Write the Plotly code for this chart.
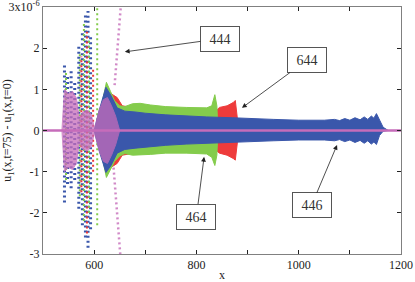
import plotly.graph_objects as go

# ---------------- data (units of 1e-6) ----------------
# run 446 (blue) envelope
blue_x = [600, 610, 623, 633, 645, 660, 680, 700, 740, 780, 820, 870, 900, 950, 1000, 1050, 1070, 1080, 1090, 1100, 1110, 1120, 1128, 1135, 1142, 1147, 1152, 1158, 1165, 1175]
blue_hi = [0.0, 0.5, 1.05, 0.85, 0.55, 0.47, 0.45, 0.42, 0.38, 0.35, 0.33, 0.31, 0.29, 0.27, 0.25, 0.25, 0.27, 0.24, 0.29, 0.25, 0.31, 0.26, 0.33, 0.27, 0.35, 0.3, 0.41, 0.25, 0.08, 0.0]
blue_lo = [0.0, -0.5, -1.02, -0.85, -0.55, -0.46, -0.43, -0.4, -0.36, -0.33, -0.31, -0.29, -0.27, -0.25, -0.23, -0.23, -0.25, -0.22, -0.27, -0.23, -0.29, -0.24, -0.31, -0.25, -0.33, -0.28, -0.34, -0.12, -0.02, 0.0]

# run 464 (green) envelope
green_x = [604, 615, 624, 632, 640, 650, 660, 675, 690, 710, 740, 780, 820, 830, 836, 840, 842]
green_hi = [0.0, 0.6, 1.17, 0.95, 0.72, 0.6, 0.58, 0.65, 0.66, 0.62, 0.58, 0.56, 0.55, 0.6, 0.87, 0.6, 0.0]
green_lo = [0.0, -0.6, -1.14, -0.95, -0.75, -0.62, -0.56, -0.6, -0.6, -0.58, -0.55, -0.55, -0.57, -0.65, -0.85, -0.6, 0.0]

# run 644 (red) envelope
red_x = [608, 625, 635, 645, 655, 700, 800, 840, 845, 860, 872, 876, 880, 882]
red_hi = [0.0, 1.0, 0.88, 0.8, 0.6, 0.5, 0.5, 0.5, 0.56, 0.6, 0.68, 0.73, 0.3, 0.0]
red_lo = [0.0, -0.98, -0.88, -0.8, -0.6, -0.5, -0.5, -0.5, -0.55, -0.6, -0.68, -0.72, -0.3, 0.0]

# run 444 (pink) envelope in the unstable region
pink_x = [537, 542, 550, 558, 565, 571, 578, 586, 594, 601, 610, 618, 626, 634, 642, 650]
pink_hi = [0.0, 1.0, 0.9, 0.95, 0.8, 0.3, 0.45, 0.5, 0.4, 0.05, 0.5, 0.75, 0.8, 0.6, 0.35, 0.0]
pink_lo = [0.0, -1.0, -0.9, -0.95, -0.8, -0.3, -0.45, -0.5, -0.4, -0.05, -0.5, -0.75, -0.8, -0.6, -0.35, 0.0]

# scattered columns of points (x, low end, high end)
blue_sp_x = [542, 548, 555, 562, 570, 577, 583, 588, 593]
blue_sp_hi = [1.65, 1.3, 1.5, 1.2, 2.1, 2.4, 2.8, 2.9, 2.3]
blue_sp_lo = [-1.75, -1.3, -1.4, -1.2, -1.9, -2.3, -2.6, -2.85, -2.4]
green_sp_x = [545, 572, 580, 590, 606]
green_sp_hi = [1.4, 1.9, 2.6, 2.2, 3.0]
green_sp_lo = [-1.2, -1.6, -2.2, -2.0, -2.3]
red_sp_x = [575, 586, 598]
red_sp_hi = [1.8, 2.4, 1.5]
red_sp_lo = [-1.5, -2.5, -1.0]
# pink slanted columns near x=645 (start x, start y, end x, end y)
pink_col_x0 = [640, 638]
pink_col_y0 = [1.1, -0.9]
pink_col_x1 = [652, 651]
pink_col_y1 = [3.0, -3.0]

# baseline of run 444
base_x = [500, 1200]
base_y = [0, 0]

# labels
labels = ["444", "644", "464", "446"]
label_pos_x = [846, 1016, 800, 1025]
label_pos_y = [2.23, 1.71, -2.09, -1.82]
arrow_x = [660, 889, 815, 1075]
arrow_y = [1.91, 0.55, -0.64, -0.35]

y_ticks = [-3, -2, -1, 0, 1, 2, 3]
y_ticktext = ["-3", "-2", "-1", "0", "1", "2", "3x10<sup>-6</sup>"]

BLUE = "#3a57ab"
GREEN = "#84cc4c"
RED = "#ee3b3b"
PINK = "#c66cba"
FONT = "Liberation Serif"


def band(x, hi, lo, color, opacity=1.0):
    return go.Scatter(x=list(x) + list(x)[::-1], y=list(hi) + list(lo)[::-1],
                      fill="toself", fillcolor=color, mode="lines", opacity=opacity,
                      line=dict(color=color, width=1), hoverinfo="skip", showlegend=False)


def spikes(x, lo, hi, color, width=2.0):
    xs, ys = [], []
    for xi, l, h in zip(x, lo, hi):
        xs += [xi, xi, None]
        ys += [l, h, None]
    return go.Scatter(x=xs, y=ys, mode="lines", line=dict(color=color, width=width, dash="2px,3px"),
                      hoverinfo="skip", showlegend=False)


fig = go.Figure()
fig.add_trace(band(red_x, red_hi, red_lo, RED))
fig.add_trace(band(green_x, green_hi, green_lo, GREEN))
fig.add_trace(spikes(blue_sp_x, blue_sp_lo, blue_sp_hi, BLUE, 3))
fig.add_trace(spikes(green_sp_x, green_sp_lo, green_sp_hi, GREEN, 2))
fig.add_trace(spikes(red_sp_x, red_sp_lo, red_sp_hi, RED, 2))
fig.add_trace(band(blue_x, blue_hi, blue_lo, BLUE))
fig.add_trace(band(pink_x, pink_hi, pink_lo, PINK, 0.75))

px, py = [], []
for a, b, c, d in zip(pink_col_x0, pink_col_y0, pink_col_x1, pink_col_y1):
    px += [a, c, None]
    py += [b, d, None]
fig.add_trace(go.Scatter(x=px, y=py, mode="lines", line=dict(color=PINK, width=2.5, dash="2px,3px"),
                         opacity=0.8, hoverinfo="skip", showlegend=False))
fig.add_trace(go.Scatter(x=base_x, y=base_y, mode="lines", line=dict(color=PINK, width=2.5),
                         hoverinfo="skip", showlegend=False))

for t, lx, ly, ax_, ay_ in zip(labels, label_pos_x, label_pos_y, arrow_x, arrow_y):
    fig.add_annotation(x=ax_, y=ay_, ax=lx, ay=ly, axref="x", ayref="y", xref="x", yref="y",
                       text=t, showarrow=True, arrowhead=2, arrowsize=1.2, arrowwidth=0.8,
                       arrowcolor="#222", bgcolor="white", bordercolor="#555", borderwidth=1,
                       width=36, height=22, font=dict(family=FONT, size=14, color="#333"))

axis_common = dict(showline=True, linecolor="#808080", linewidth=1, mirror="allticks",
                   ticks="inside", ticklen=4, tickcolor="#222", showgrid=False, zeroline=False,
                   automargin=False, ticklabeloverflow="allow",
                   tickfont=dict(family=FONT, size=12, color="#222"))
fig.update_xaxes(range=[500, 1200], tick0=0, dtick=200,
                 minor=dict(ticks="inside", dtick=100, tick0=0, ticklen=4, tickcolor="#222", showgrid=False),
                 title=dict(text="x", font=dict(family=FONT, size=12, color="#222")),
                 **axis_common)
fig.update_yaxes(range=[-3, 3], tickvals=y_ticks, ticktext=y_ticktext,
                 title=dict(text="u<sub>1</sub>(x,t=75) - u<sub>1</sub>(x,t=0)",
                            font=dict(family=FONT, size=12, color="#222")),
                 **axis_common)
fig.update_layout(width=415, height=282, margin=dict(l=43, r=14, t=7, b=28),
                  plot_bgcolor="white", paper_bgcolor="white", showlegend=False)
fig.write_html("out.html", config={"displayModeBar": False},
               post_script="document.body.style.margin='0';")
